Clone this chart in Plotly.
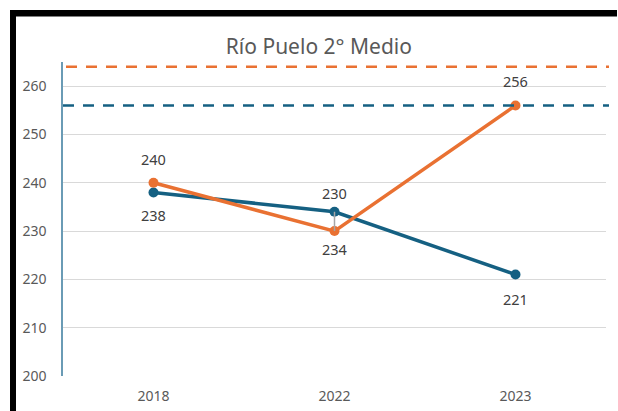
import plotly.graph_objects as go

# datos
years = ["2018", "2022", "2023"]
serie_azul = [238, 234, 221]
serie_naranja = [240, 230, 256]
meta_azul = 256
meta_naranja = 264
y_ticks = [200, 210, 220, 230, 240, 250, 260]

AZUL = "#156082"
NARANJA = "#E97132"
GRIS = "#595959"

W, H = 618, 411
L, R, T, B = 63, 12, 62, 35


def px_x(px):
    return (px - L) / (W - L - R)


def px_y(py):
    return (H - B - py) / (H - T - B)


fig = go.Figure()

fig.add_trace(go.Scatter(
    x=years, y=serie_azul, mode="lines+markers",
    line=dict(color=AZUL, width=3.5), marker=dict(size=10, color=AZUL),
    showlegend=False))

fig.add_trace(go.Scatter(
    x=years, y=serie_naranja, mode="lines+markers",
    line=dict(color=NARANJA, width=3.5), marker=dict(size=10, color=NARANJA),
    showlegend=False))

# linea gris entre los dos puntos de 2022
fig.add_trace(go.Scatter(
    x=[years[1], years[1]], y=[serie_azul[1], serie_naranja[1]],
    mode="lines", line=dict(color="#a6a6a6", width=1.5),
    hoverinfo="skip", showlegend=False))

# etiquetas de datos (x como indice de categoria)
# en 2022 quedaron cruzadas: la naranja arriba y la azul abajo
shift_azul = [-23, -37, -24]
shift_naranja = [24, 38, 24]
label_font = dict(size=14.5, color="#404040")
for i, yr in enumerate(years):
    fig.add_annotation(x=i, y=serie_azul[i], text=str(serie_azul[i]),
                       yshift=shift_azul[i], showarrow=False, font=label_font)
    fig.add_annotation(x=i, y=serie_naranja[i], text=str(serie_naranja[i]),
                       yshift=shift_naranja[i], showarrow=False, font=label_font)

# lineas de meta punteadas
fig.add_shape(type="line", xref="paper", yref="y", x0=0, x1=px_x(609),
              y0=meta_azul, y1=meta_azul,
              line=dict(color=AZUL, width=2.5, dash="11px,9px"))
fig.add_shape(type="line", xref="paper", yref="y", x0=px_x(66), x1=px_x(609),
              y0=meta_naranja, y1=meta_naranja,
              line=dict(color=NARANJA, width=2.5, dash="11px,9px"))

# marco negro (franja superior y franja izquierda)
fig.add_shape(type="rect", xref="paper", yref="paper", layer="above",
              x0=px_x(10), x1=px_x(W - 1), y0=px_y(16.5), y1=px_y(10),
              fillcolor="black", line=dict(width=0))
fig.add_shape(type="rect", xref="paper", yref="paper", layer="above",
              x0=px_x(10), x1=px_x(16), y0=px_y(H), y1=px_y(10),
              fillcolor="black", line=dict(width=0))

fig.update_layout(
    width=W, height=H,
    margin=dict(l=L, r=R, t=T, b=B),
    paper_bgcolor="white", plot_bgcolor="white",
    font=dict(family="Noto Sans", color=GRIS),
    title=dict(text="Río Puelo 2° Medio", x=0.516, xanchor="center",
               y=1 - 47 / H, yanchor="middle",
               font=dict(size=21, color=GRIS)),
    xaxis=dict(type="category", categoryorder="array", categoryarray=years,
               range=[-0.5, 2.5], showgrid=False, showline=False, ticks="",
               ticklabelstandoff=10, automargin=False,
               tickfont=dict(size=14, color=GRIS)),
    yaxis=dict(range=[200, 265], tickvals=y_ticks, showgrid=True,
               gridcolor="#d9d9d9", gridwidth=1, zeroline=False,
               showline=True, linecolor="#6a9bb5", linewidth=1.5,
               ticks="", ticklabelstandoff=12, automargin=False,
               tickfont=dict(size=14, color=GRIS)),
)

fig.write_html("out.html", config={"displayModeBar": False},
               post_script="document.body.style.margin='0';"
                           "document.body.style.overflow='hidden';")
